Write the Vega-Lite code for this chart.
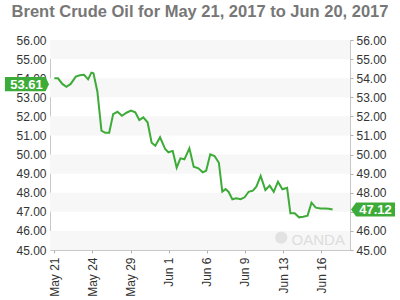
{
  "$schema": "https://vega.github.io/schema/vega-lite/v6.json",
  "width": 300,
  "height": 210,
  "autosize": {"type": "none"},
  "padding": {"left": 50, "top": 40, "right": 50, "bottom": 50},
  "title": {
    "text": "Brent Crude Oil for May 21, 2017 to Jun 20, 2017",
    "font": "Liberation Sans",
    "fontSize": 16.5,
    "fontWeight": "bold",
    "color": "#777777",
    "anchor": "middle",
    "frame": "group",
    "baseline": "alphabetic",
    "offset": 0.5
  },
  "config": {
    "view": {"stroke": "#c8c8c8", "strokeWidth": 1},
    "axis": {
      "labelFont": "Liberation Sans",
      "labelFontSize": 12,
      "labelColor": "#333333",
      "domain": false,
      "grid": false,
      "tickColor": "#b0b0b0",
      "title": null
    }
  },
  "resolve": {"axis": {"x": "independent", "y": "independent"}},
  "datasets": {
    "bands": [
      {"lo": 45, "hi": 46}, {"lo": 47, "hi": 48}, {"lo": 49, "hi": 50},
      {"lo": 51, "hi": 52}, {"lo": 53, "hi": 54}, {"lo": 55, "hi": 56}
    ],
    "prices": [
      {"t": 0.00, "price": 53.99}, {"t": 0.29, "price": 53.99}, {"t": 0.63, "price": 53.70},
      {"t": 0.95, "price": 53.55}, {"t": 1.29, "price": 53.70}, {"t": 1.69, "price": 54.08},
      {"t": 2.01, "price": 54.15}, {"t": 2.34, "price": 54.18}, {"t": 2.66, "price": 53.94},
      {"t": 2.92, "price": 54.29}, {"t": 3.08, "price": 54.26}, {"t": 3.39, "price": 53.29},
      {"t": 3.71, "price": 51.25}, {"t": 4.00, "price": 51.14}, {"t": 4.32, "price": 51.14},
      {"t": 4.63, "price": 52.12}, {"t": 4.97, "price": 52.24}, {"t": 5.32, "price": 52.03},
      {"t": 5.68, "price": 52.19}, {"t": 6.03, "price": 52.30}, {"t": 6.37, "price": 52.21},
      {"t": 6.69, "price": 51.81}, {"t": 7.00, "price": 51.95}, {"t": 7.34, "price": 51.69},
      {"t": 7.66, "price": 50.62}, {"t": 7.95, "price": 50.46}, {"t": 8.32, "price": 50.90},
      {"t": 8.72, "price": 50.29}, {"t": 8.98, "price": 50.12}, {"t": 9.32, "price": 50.19},
      {"t": 9.63, "price": 49.31}, {"t": 9.92, "price": 49.80}, {"t": 10.24, "price": 49.75},
      {"t": 10.63, "price": 50.33}, {"t": 10.97, "price": 49.36}, {"t": 11.34, "price": 49.28},
      {"t": 11.68, "price": 49.07}, {"t": 11.95, "price": 49.15}, {"t": 12.27, "price": 50.01},
      {"t": 12.61, "price": 49.92}, {"t": 12.95, "price": 49.57}, {"t": 13.22, "price": 48.06},
      {"t": 13.48, "price": 48.19}, {"t": 13.72, "price": 48.04}, {"t": 14.01, "price": 47.66},
      {"t": 14.32, "price": 47.71}, {"t": 14.66, "price": 47.66}, {"t": 14.98, "price": 47.76},
      {"t": 15.29, "price": 48.05}, {"t": 15.63, "price": 48.11}, {"t": 15.90, "price": 48.32},
      {"t": 16.24, "price": 48.88}, {"t": 16.61, "price": 48.14}, {"t": 16.95, "price": 48.37},
      {"t": 17.27, "price": 48.05}, {"t": 17.60, "price": 48.58}, {"t": 17.95, "price": 48.18},
      {"t": 18.32, "price": 48.26}, {"t": 18.58, "price": 46.92}, {"t": 18.92, "price": 46.92},
      {"t": 19.26, "price": 46.71}, {"t": 19.58, "price": 46.74}, {"t": 19.93, "price": 46.80},
      {"t": 20.24, "price": 47.48}, {"t": 20.58, "price": 47.22}, {"t": 20.95, "price": 47.18},
      {"t": 21.29, "price": 47.18}, {"t": 21.61, "price": 47.16}, {"t": 21.90, "price": 47.12}
    ],
    "tags": [
      {"side": "left", "price": 53.61, "label": "53.61"},
      {"side": "right", "price": 47.12, "label": "47.12"}
    ],
    "brand": [{"name": "OANDA", "price": 45.26}]
  },
  "layer": [
    {
      "data": {"name": "bands"},
      "mark": {"type": "rect", "fill": "#f7f7f7"},
      "encoding": {
        "y": {
          "field": "lo", "type": "quantitative",
          "scale": {"domain": [45, 56], "nice": false, "zero": false},
          "axis": {
            "orient": "left", "values": [45, 46, 47, 48, 49, 50, 51, 52, 53, 54, 55, 56],
            "format": ".2f", "ticks": false, "labelPadding": 4
          }
        },
        "y2": {"field": "hi"}
      }
    },
    {
      "data": {"name": "prices"},
      "mark": {"type": "line", "color": "#3dab37", "strokeWidth": 2},
      "encoding": {
        "x": {
          "field": "t", "type": "quantitative",
          "scale": {"domain": [-0.34, 23.27], "nice": false, "zero": false},
          "axis": {
            "orient": "bottom", "values": [0, 3, 6, 9, 12, 15, 18, 21],
            "labelExpr": "['May 21','May 24','May 29','Jun 1','Jun 6','Jun 9','Jun 13','Jun 16'][round(datum.value/3)]",
            "labelAngle": 270, "tickSize": 3, "labelPadding": 4
          }
        },
        "y": {
          "field": "price", "type": "quantitative",
          "axis": {
            "orient": "right", "values": [45, 46, 47, 48, 49, 50, 51, 52, 53, 54, 55, 56],
            "format": ".2f", "ticks": true, "tickSize": 3, "labelPadding": 3
          }
        }
      }
    },
    {
      "data": {"name": "brand"},
      "mark": {"type": "text", "align": "right", "baseline": "alphabetic", "font": "Liberation Sans", "fontSize": 15, "color": "#dddddd"},
      "encoding": {
        "x": {"datum": 22.87, "type": "quantitative", "axis": null},
        "y": {"field": "price", "type": "quantitative", "axis": null},
        "text": {"field": "name"}
      }
    },
    {
      "data": {"name": "brand"},
      "mark": {"type": "point", "shape": "circle", "filled": true, "size": 150, "color": "#e2e2e2", "opacity": 1},
      "encoding": {
        "x": {"datum": 17.86, "type": "quantitative", "axis": null},
        "y": {"datum": 45.65, "type": "quantitative", "axis": null}
      }
    },
    {
      "data": {"name": "tags"},
      "transform": [{"filter": "datum.side === 'left'"}],
      "mark": {
        "type": "point", "filled": true, "opacity": 1, "color": "#3dab37", "size": 1936, "yOffset": -1.5,
        "shape": "M-1,-0.32L0.85,-0.32L1,0L0.85,0.32L-1,0.32Z"
      },
      "encoding": {
        "x": {"datum": -2.155, "type": "quantitative", "axis": null},
        "y": {"field": "price", "type": "quantitative", "axis": null}
      }
    },
    {
      "data": {"name": "tags"},
      "transform": [{"filter": "datum.side === 'left'"}],
      "mark": {"type": "text", "font": "Liberation Sans", "fontSize": 13, "fontWeight": "bold", "color": "white", "align": "center", "baseline": "middle", "yOffset": -1},
      "encoding": {
        "x": {"datum": -2.19, "type": "quantitative", "axis": null},
        "y": {"field": "price", "type": "quantitative", "axis": null},
        "text": {"field": "label"}
      }
    },
    {
      "data": {"name": "tags"},
      "transform": [{"filter": "datum.side === 'right'"}],
      "mark": {
        "type": "point", "filled": true, "opacity": 1, "color": "#3dab37", "size": 1936,
        "shape": "M-1,0L-0.77,-0.32L1,-0.32L1,0.32L-0.77,0.32Z"
      },
      "encoding": {
        "x": {"datum": 25.08, "type": "quantitative", "axis": null},
        "y": {"field": "price", "type": "quantitative", "axis": null}
      }
    },
    {
      "data": {"name": "tags"},
      "transform": [{"filter": "datum.side === 'right'"}],
      "mark": {"type": "text", "font": "Liberation Sans", "fontSize": 13, "fontWeight": "bold", "color": "white", "align": "center", "baseline": "middle", "yOffset": 0.5},
      "encoding": {
        "x": {"datum": 25.28, "type": "quantitative", "axis": null},
        "y": {"field": "price", "type": "quantitative", "axis": null},
        "text": {"field": "label"}
      }
    }
  ]
}
